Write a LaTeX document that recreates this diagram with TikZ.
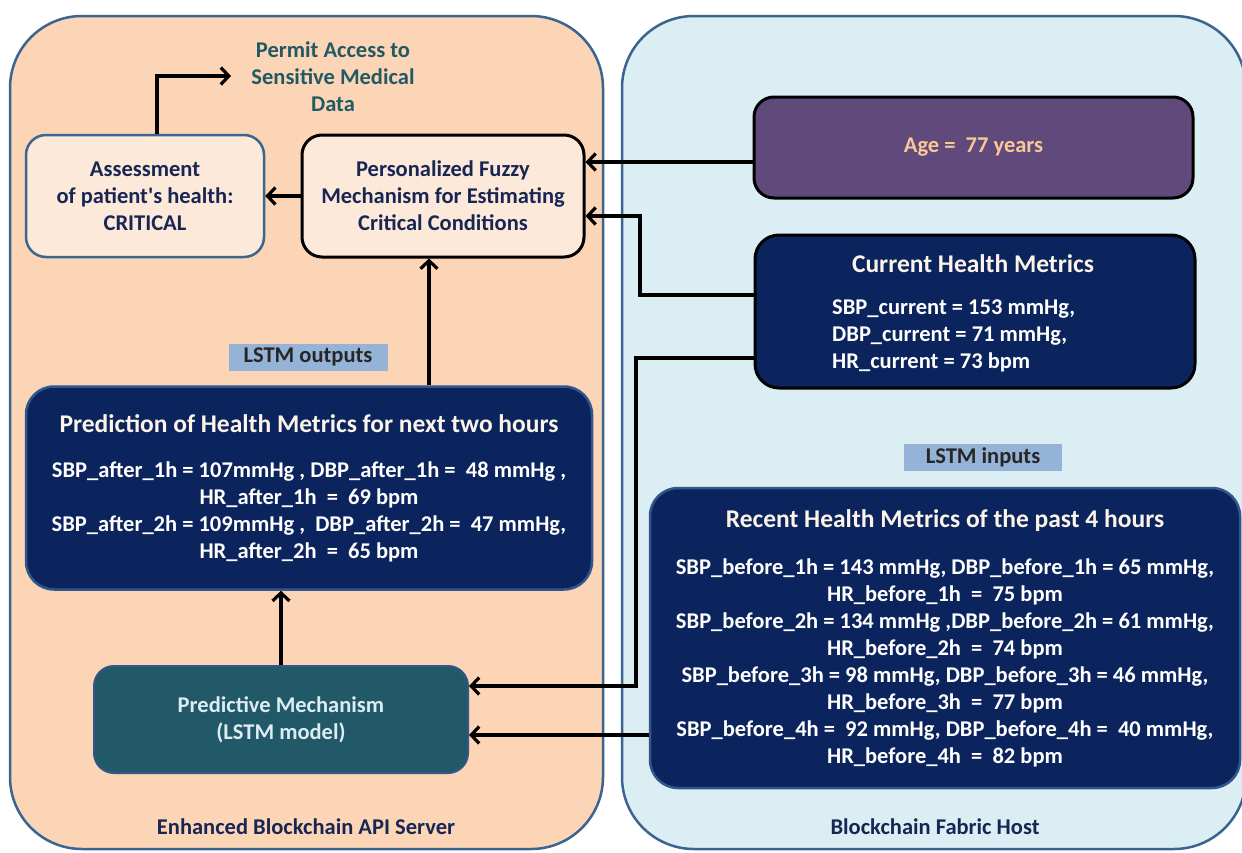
\documentclass[tikz,border=0pt]{standalone}
\usepackage{fontspec}
\setmainfont{Carlito}
\usetikzlibrary{arrows.meta}
\definecolor{panelL}{RGB}{251,213,181}
\definecolor{panelR}{RGB}{218,238,243}
\definecolor{panelEdge}{RGB}{60,100,145}
\definecolor{cream}{RGB}{253,233,217}
\definecolor{navy}{RGB}{12,36,94}
\definecolor{navyEdge}{RGB}{50,85,140}
\definecolor{tealbox}{RGB}{33,89,104}
\definecolor{tealtxt}{RGB}{220,236,242}
\definecolor{permit}{RGB}{33,89,100}
\definecolor{purplebox}{RGB}{96,74,123}
\definecolor{peach}{RGB}{250,200,150}
\definecolor{lblue}{RGB}{149,179,215}
\definecolor{darktxt}{RGB}{23,38,84}
\definecolor{titletxt}{RGB}{252,244,232}
\newcommand{\ttl}[1]{{\fontsize{25.5}{27}\selectfont\color{titletxt}#1}}
\begin{document}
\begin{tikzpicture}[x=1pt,y=-1pt,
 base/.style={font=\bfseries\fontsize{22.5}{27}\selectfont, align=center, inner sep=0pt},
 panel/.style={draw=panelEdge, line width=2.5pt, rounded corners=72pt},
 lightbox/.style={base, fill=cream, rounded corners=20pt, line width=2.5pt, text=darktxt},
 navybox/.style={base, fill=navy, rounded corners=28pt, line width=2.5pt, text=white},
 tag/.style={base, fill=lblue, text=black!85},
 conn/.style={line width=3.2pt, -{Straight Barb[length=8pt,width=17pt]}},
]
\useasboundingbox (0,0) rectangle (1242,852);
\fill[white] (0,0) rectangle (1242,852);
\clip (0,0) rectangle (1242,852);
% panels
\draw[panel, fill=panelL] (10,16) rectangle (603,849);
\draw[panel, fill=panelR] (622,16) rectangle (1246,849);
% left side nodes
\node[base, text=permit] (permit) at (333,77) {Permit Access to\\Sensitive Medical\\Data};
\node[lightbox, draw=panelEdge, minimum width=238pt, minimum height=122pt] (assess) at (145,196)
  {Assessment\\of patient\textquotesingle s health:\\CRITICAL};
\node[lightbox, draw=black, line width=3pt, minimum width=282pt, minimum height=122pt] (fuzzy) at (443,196)
  {Personalized Fuzzy\\Mechanism for Estimating\\Critical Conditions};
\node[tag, minimum width=159pt, minimum height=27pt] (lout) at (308,357) {LSTM outputs};
\node[navybox, draw=navyEdge, minimum width=566pt, minimum height=203pt] (pred) at (309,488)
  {\ttl{Prediction of Health Metrics for next two hours}\\[18pt]
   SBP\_after\_1h = 107mmHg , DBP\_after\_1h = \ 48 mmHg ,\\
   HR\_after\_1h \ = \ 69 bpm\\
   SBP\_after\_2h = 109mmHg , \ DBP\_after\_2h = \ 47 mmHg,\\
   HR\_after\_2h \ = \ 65 bpm};
\node[base, fill=tealbox, draw=navyEdge, line width=2pt, rounded corners=20pt, text=tealtxt,
      minimum width=374pt, minimum height=107pt] (predm) at (281,719.5)
  {Predictive Mechanism\\(LSTM model)};
\node[base, text=darktxt] (srv) at (306,827) {Enhanced Blockchain API Server};
% right side nodes
\node[base, fill=purplebox, draw=black, line width=3pt, rounded corners=20pt, text=peach,
      minimum width=439pt, minimum height=101pt] (age) at (973.5,147.5) {Age =\ \ 77 years};
\node[base, fill=navy, draw=black, line width=3pt, rounded corners=24pt,
      minimum width=440pt, minimum height=153pt] (cur) at (975,311.5) {};
\node[base, text=white] (curt) at (973,264) {\ttl{Current Health Metrics}};
\node[base, text=white, align=left, anchor=west] (curb) at (832,336)
  {SBP\_current = 153 mmHg,\\DBP\_current = 71 mmHg,\\HR\_current = 73 bpm};
\node[tag, minimum width=158pt, minimum height=27pt] (lin) at (983,457.5) {LSTM inputs};
\node[navybox, draw=navyEdge, minimum width=590pt, minimum height=300pt] (rec) at (945,638)
  {\ttl{Recent Health Metrics of the past 4 hours}\\[20pt]
   SBP\_before\_1h = 143 mmHg, DBP\_before\_1h = 65 mmHg,\\
   HR\_before\_1h \ = \ 75 bpm\\
   SBP\_before\_2h = 134 mmHg ,DBP\_before\_2h = 61 mmHg,\\
   HR\_before\_2h \ = \ 74 bpm\\
   SBP\_before\_3h = 98 mmHg, DBP\_before\_3h = 46 mmHg,\\
   HR\_before\_3h \ = \ 77 bpm\\
   SBP\_before\_4h = \ 92 mmHg, DBP\_before\_4h = \ 40 mmHg,\\
   HR\_before\_4h \ = \ 82 bpm};
\node[base, text=darktxt] (host) at (935,827) {Blockchain Fabric Host};
% connectors
\coordinate (pa) at (231,76);
\draw[conn] ([xshift=12pt]assess.north) |- (pa);
\draw[conn] (fuzzy.west) -- (assess.east);
\draw[conn] (429,0 |- pred.north) -- (429,0 |- fuzzy.south);
\draw[conn] (predm.north) -- (predm.north |- pred.south);
\draw[conn] (age.west |- 0,162) -- (fuzzy.east |- 0,162);
\draw[conn] (cur.west |- 0,295) -| (640,216) -- (fuzzy.east |- 0,216);
\draw[conn] (cur.west |- 0,358) -| (636,686) -- (predm.east |- 0,686);
\draw[conn] (rec.west |- 0,735) -- (predm.east |- 0,735);
\end{tikzpicture}
\end{document}
